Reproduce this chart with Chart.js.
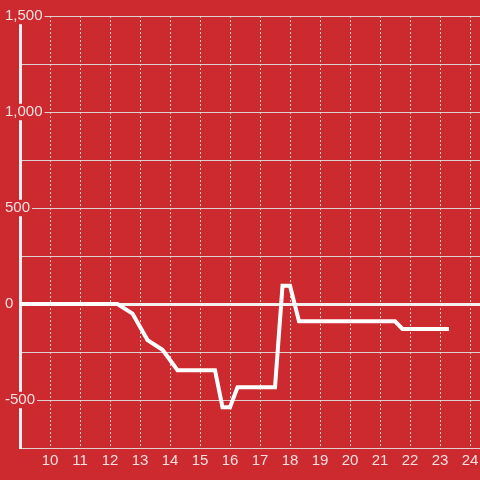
<!DOCTYPE html>
<html><head><meta charset="utf-8">
<script src="https://cdn.jsdelivr.net/npm/chart.js@4/dist/chart.umd.min.js"></script>
<style>html,body{margin:0;padding:0;background:#cc2a2f;} canvas{display:block;}</style>
</head><body>
<canvas id="c" width="480" height="480"></canvas>
<script>
const hours  = [9, 12.25, 12.75, 13.25, 13.75, 14.25, 15.5, 15.75, 16.0, 16.25, 17.5, 17.75, 18.0, 18.3, 21.5, 21.75, 23.3];
const values = [0, 0, -50, -188, -238, -345, -345, -538, -538, -434, -434, 95, 95, -90, -90, -130, -130];
const xTickValues = [10, 11, 12, 13, 14, 15, 16, 17, 18, 19, 20, 21, 22, 23, 24];
const yTickLabels = [-500, 0, 500, 1000, 1500];

const BG = '#cc2a2f';
const TEXT = 'rgba(255,255,255,0.85)';
const points = hours.map((h, i) => ({x: h, y: values[i]}));

Chart.defaults.font.family = "'Liberation Sans', Arial, sans-serif";
Chart.defaults.font.size = 15;
Chart.defaults.color = TEXT;

new Chart(document.getElementById('c'), {
  type: 'line',
  data: { datasets: [{
    data: points,
    borderColor: '#ffffff',
    borderWidth: 4,
    pointRadius: 0,
    tension: 0,
    fill: false
  }]},
  options: {
    responsive: false,
    animation: false,
    events: [],
    layout: { padding: { top: 16, left: 20, right: 0, bottom: 6 } },
    plugins: { legend: { display: false }, tooltip: { enabled: false } },
    scales: {
      x: {
        type: 'linear',
        min: 9,
        max: 24.333,
        ticks: {
          stepSize: 1,
          includeBounds: false,
          maxRotation: 0,
          autoSkip: false,
          padding: 1,
          color: TEXT,
          font: { size: 15, lineHeight: 1.6 },
          callback: (v) => xTickValues.includes(v) ? String(v) : null
        },
        grid: { color: 'rgba(255,235,235,0.85)', lineWidth: 1, drawTicks: false },
        border: { display: false, dash: [2, 2] }
      },
      y: {
        min: -750,
        max: 1500,
        ticks: {
          stepSize: 250,
          mirror: true,
          crossAlign: 'near',
          padding: -15,
          color: TEXT,
          font: { size: 15, lineHeight: 1.1 },
          showLabelBackdrop: true,
          backdropPadding: { left: 0, right: 2, top: 0, bottom: 0 },
          backdropColor: (ctx) => (ctx.tick && yTickLabels.includes(ctx.tick.value)) ? BG : 'rgba(0,0,0,0)',
          callback: (v) => yTickLabels.includes(v) ? v.toLocaleString('en-US') : ''
        },
        grid: {
          drawTicks: true,
          tickLength: 30,
          tickColor: 'rgba(0,0,0,0)',
          color: (ctx) => (ctx.tick && ctx.tick.value === 0) ? '#f4f0f0' : 'rgba(225,225,225,0.9)',
          lineWidth: (ctx) => (ctx.tick && ctx.tick.value === 0) ? 3 : 1
        },
        border: { display: true, color: '#f4f0f0', width: 3 }
      }
    }
  }
});
</script>
</body></html>
